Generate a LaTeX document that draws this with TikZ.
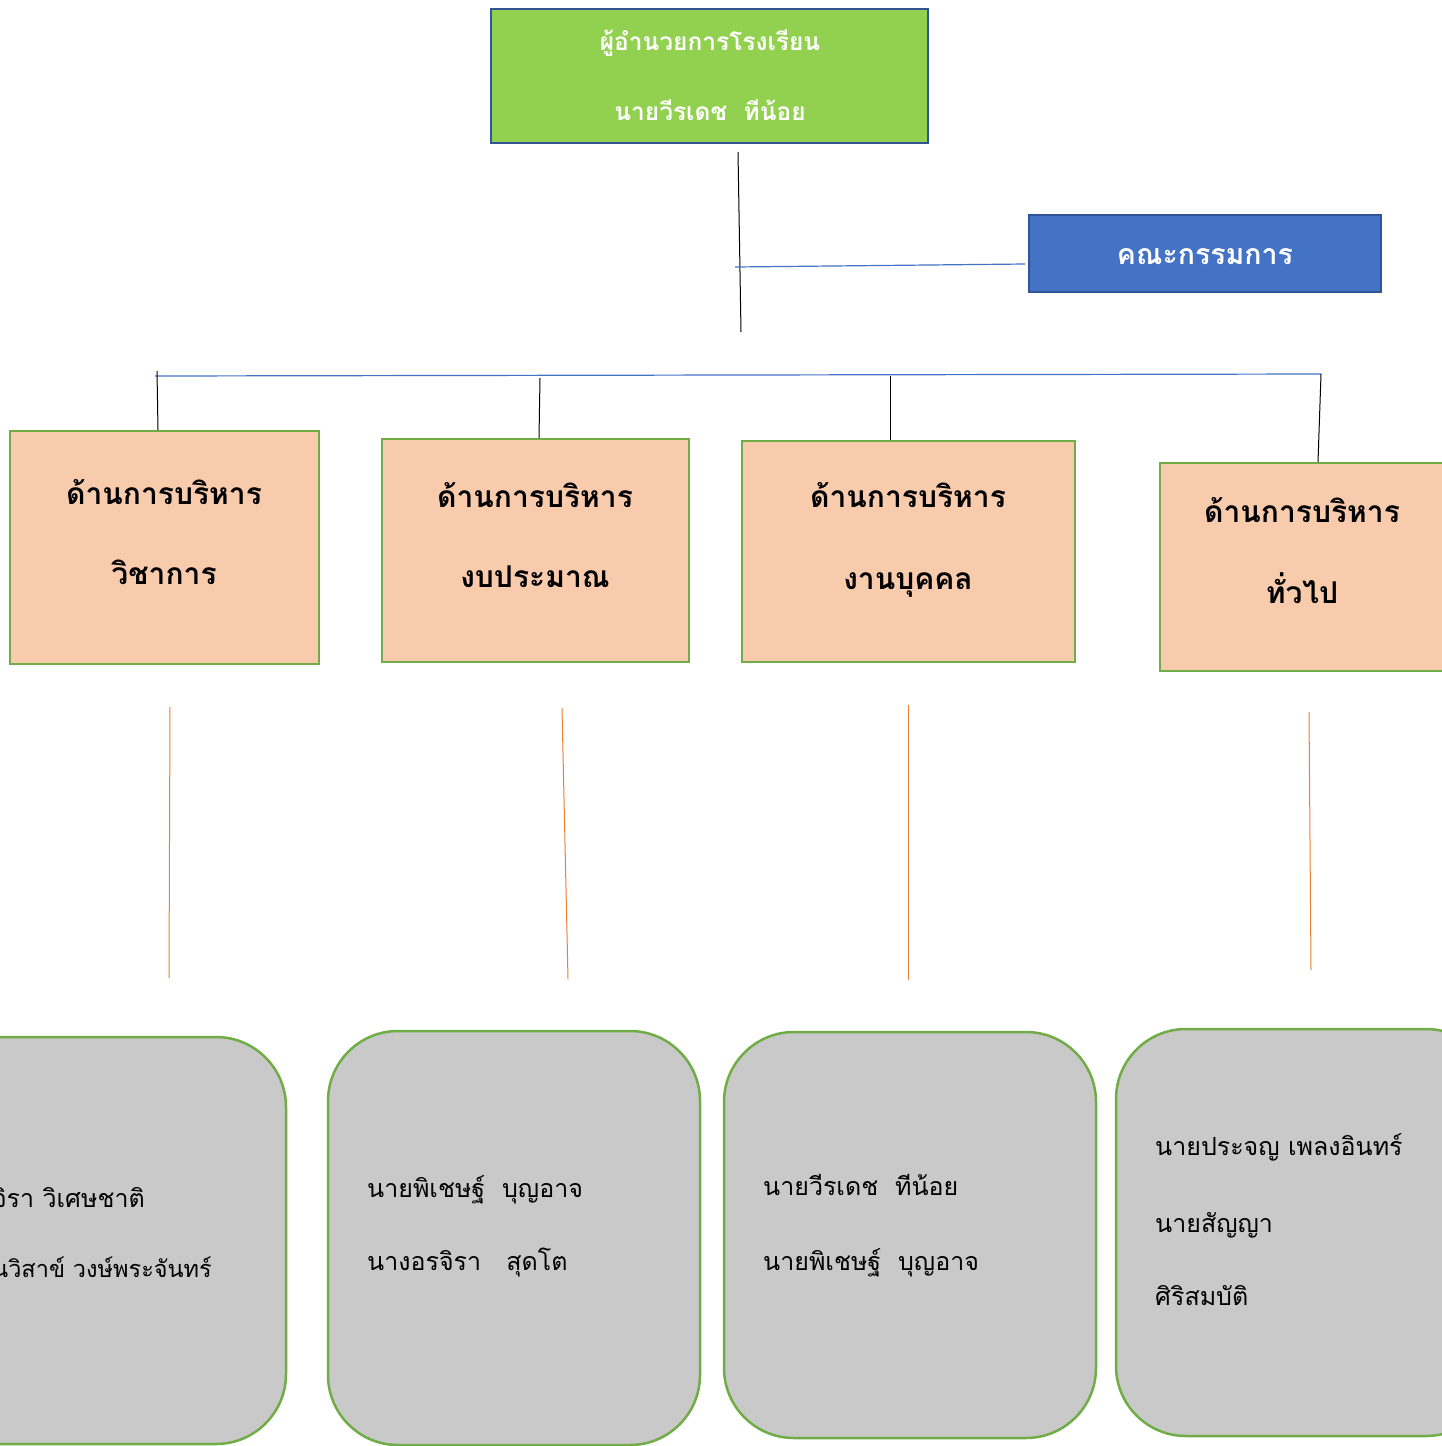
\documentclass[tikz,border=0pt]{standalone}
\usepackage{fontspec}
\newfontfamily\thai[Script=Thai]{Loma}
\definecolor{dirgreen}{HTML}{92D050}
\definecolor{darkblue}{HTML}{2F5597}
\definecolor{combl}{HTML}{4472C4}
\definecolor{orfill}{HTML}{F8CBAD}
\definecolor{grborder}{HTML}{70AD47}
\definecolor{grayfill}{HTML}{C9C9C9}
\definecolor{orline}{HTML}{ED7D31}
\tikzset{
  topbox/.style={draw=darkblue, fill=dirgreen, line width=2.5pt, inner sep=0pt},
  combox/.style={draw=darkblue, fill=combl, line width=2.5pt, inner sep=0pt},
  orbox/.style={draw=grborder, fill=orfill, line width=2.5pt, inner sep=0pt},
  graybox/.style={draw=grborder, fill=grayfill, line width=2.5pt, inner sep=0pt, rounded corners=70pt},
  whitetext/.style={text=white, font=\thai\bfseries\fontsize{24.5}{28}\selectfont, inner sep=0pt, anchor=base},
  comtext/.style={text=white, font=\thai\bfseries\fontsize{28.5}{32}\selectfont, inner sep=0pt, anchor=base},
  headtext/.style={text=black, font=\thai\bfseries\fontsize{30}{34}\selectfont, inner sep=0pt, anchor=base},
  nametext/.style={text=black, font=\thai\fontsize{25}{29}\selectfont, inner sep=0pt, anchor=base west},
  blackline/.style={draw=black, line width=1pt},
  blueline/.style={draw=combl, line width=1.2pt},
  orangeline/.style={draw=orline, line width=1pt},
}
\begin{document}
\begin{tikzpicture}[x=1pt,y=-1pt]
\useasboundingbox (0,0) rectangle (1442,1446);
\clip (0,0) rectangle (1442,1446);
% top box
\node[topbox, minimum width=437pt, minimum height=134pt] (dir) at (709.5,76) {};
\node[whitetext] (dirt1) at (710,50) {ผู้อำนวยการโรงเรียน};
\node[whitetext] (dirt2) at (710,120) {นายวีรเดช\ \ ทีน้อย};
% committee
\node[combox, minimum width=352pt, minimum height=77pt] (com) at (1205,253.5) {};
\node[comtext] (comt) at (1205,264) {คณะกรรมการ};
% connector coordinates
\coordinate (vtop) at (738,152);
\coordinate (vbot) at (741,332);
\coordinate (cl) at (735,267);
\coordinate (cr) at (1025,264);
\coordinate (barl) at (155,376);
\coordinate (barr) at (1321,374);
\draw[blackline] (vtop) -- (vbot);
\draw[blueline] (cl) -- (cr);
\draw[blueline] (barl) -- (barr);
% orange boxes
\node[orbox, minimum width=309pt, minimum height=233pt] (a1) at (164.5,547.5) {};
\node[orbox, minimum width=307pt, minimum height=223pt] (a2) at (535.5,550.5) {};
\node[orbox, minimum width=333pt, minimum height=221pt] (a3) at (908.5,551.5) {};
\node[orbox, minimum width=320pt, minimum height=208pt] (a4) at (1320,567) {};
\node[headtext] (a1t1) at (164,504) {ด้านการบริหาร};
\node[headtext] (a1t2) at (164,584) {วิชาการ};
\node[headtext] (a2t1) at (535,507) {ด้านการบริหาร};
\node[headtext] (a2t2) at (535,587) {งบประมาณ};
\node[headtext] (a3t1) at (908,507) {ด้านการบริหาร};
\node[headtext] (a3t2) at (908,589) {งานบุคคล};
\node[headtext] (a4t1) at (1302,522) {ด้านการบริหาร};
\node[headtext] (a4t2) at (1302,603) {ทั่วไป};
% black drops
\coordinate (d1t) at (157,371); \coordinate (d1b) at (158,430);
\coordinate (d2t) at (540,378); \coordinate (d2b) at (539,438);
\coordinate (d3t) at (890,376); \coordinate (d3b) at (890,440);
\coordinate (d4t) at (1321,374); \coordinate (d4b) at (1318,462);
\draw[blackline] (d1t) -- (d1b);
\draw[blackline] (d2t) -- (d2b);
\draw[blackline] (d3t) -- (d3b);
\draw[blackline] (d4t) -- (d4b);
% orange connectors
\coordinate (o1t) at (170,707); \coordinate (o1b) at (169,978);
\coordinate (o2t) at (562,708); \coordinate (o2b) at (568,979);
\coordinate (o3t) at (908,705); \coordinate (o3b) at (908,980);
\coordinate (o4t) at (1309,712); \coordinate (o4b) at (1311,970);
\draw[orangeline] (o1t) -- (o1b);
\draw[orangeline] (o2t) -- (o2b);
\draw[orangeline] (o3t) -- (o3b);
\draw[orangeline] (o4t) -- (o4b);
% gray boxes
\node[graybox, minimum width=400pt, minimum height=407pt] (g1) at (86,1240.5) {};
\node[graybox, minimum width=372pt, minimum height=414pt] (g2) at (514,1238) {};
\node[graybox, minimum width=372pt, minimum height=406pt] (g3) at (910,1235) {};
\node[graybox, minimum width=380pt, minimum height=407pt] (g4) at (1306,1232.5) {};
\node[nametext, anchor=base east] (g1t1) at (145,1207) {จิรา วิเศษชาติ};
\node[nametext, font=\thai\fontsize{23.5}{27}\selectfont] (g1t2) at (-8,1277) {นวิสาข์\ วงษ์พระจันทร์};
\node[nametext] (g2t1) at (367,1197) {นายพิเชษฐ์\ \ บุญอาจ};
\node[nametext] (g2t2) at (367,1270) {นางอรจิรา\ \ \ สุดโต};
\node[nametext] (g3t1) at (763,1195) {นายวีรเดช\ \ ทีน้อย};
\node[nametext] (g3t2) at (763,1270) {นายพิเชษฐ์\ \ บุญอาจ};
\node[nametext] (g4t1) at (1155,1155) {นายประจญ เพลงอินทร์};
\node[nametext] (g4t2) at (1155,1232) {นายสัญญา};
\node[nametext] (g4t3) at (1155,1305) {ศิริสมบัติ};
\end{tikzpicture}
\end{document}
